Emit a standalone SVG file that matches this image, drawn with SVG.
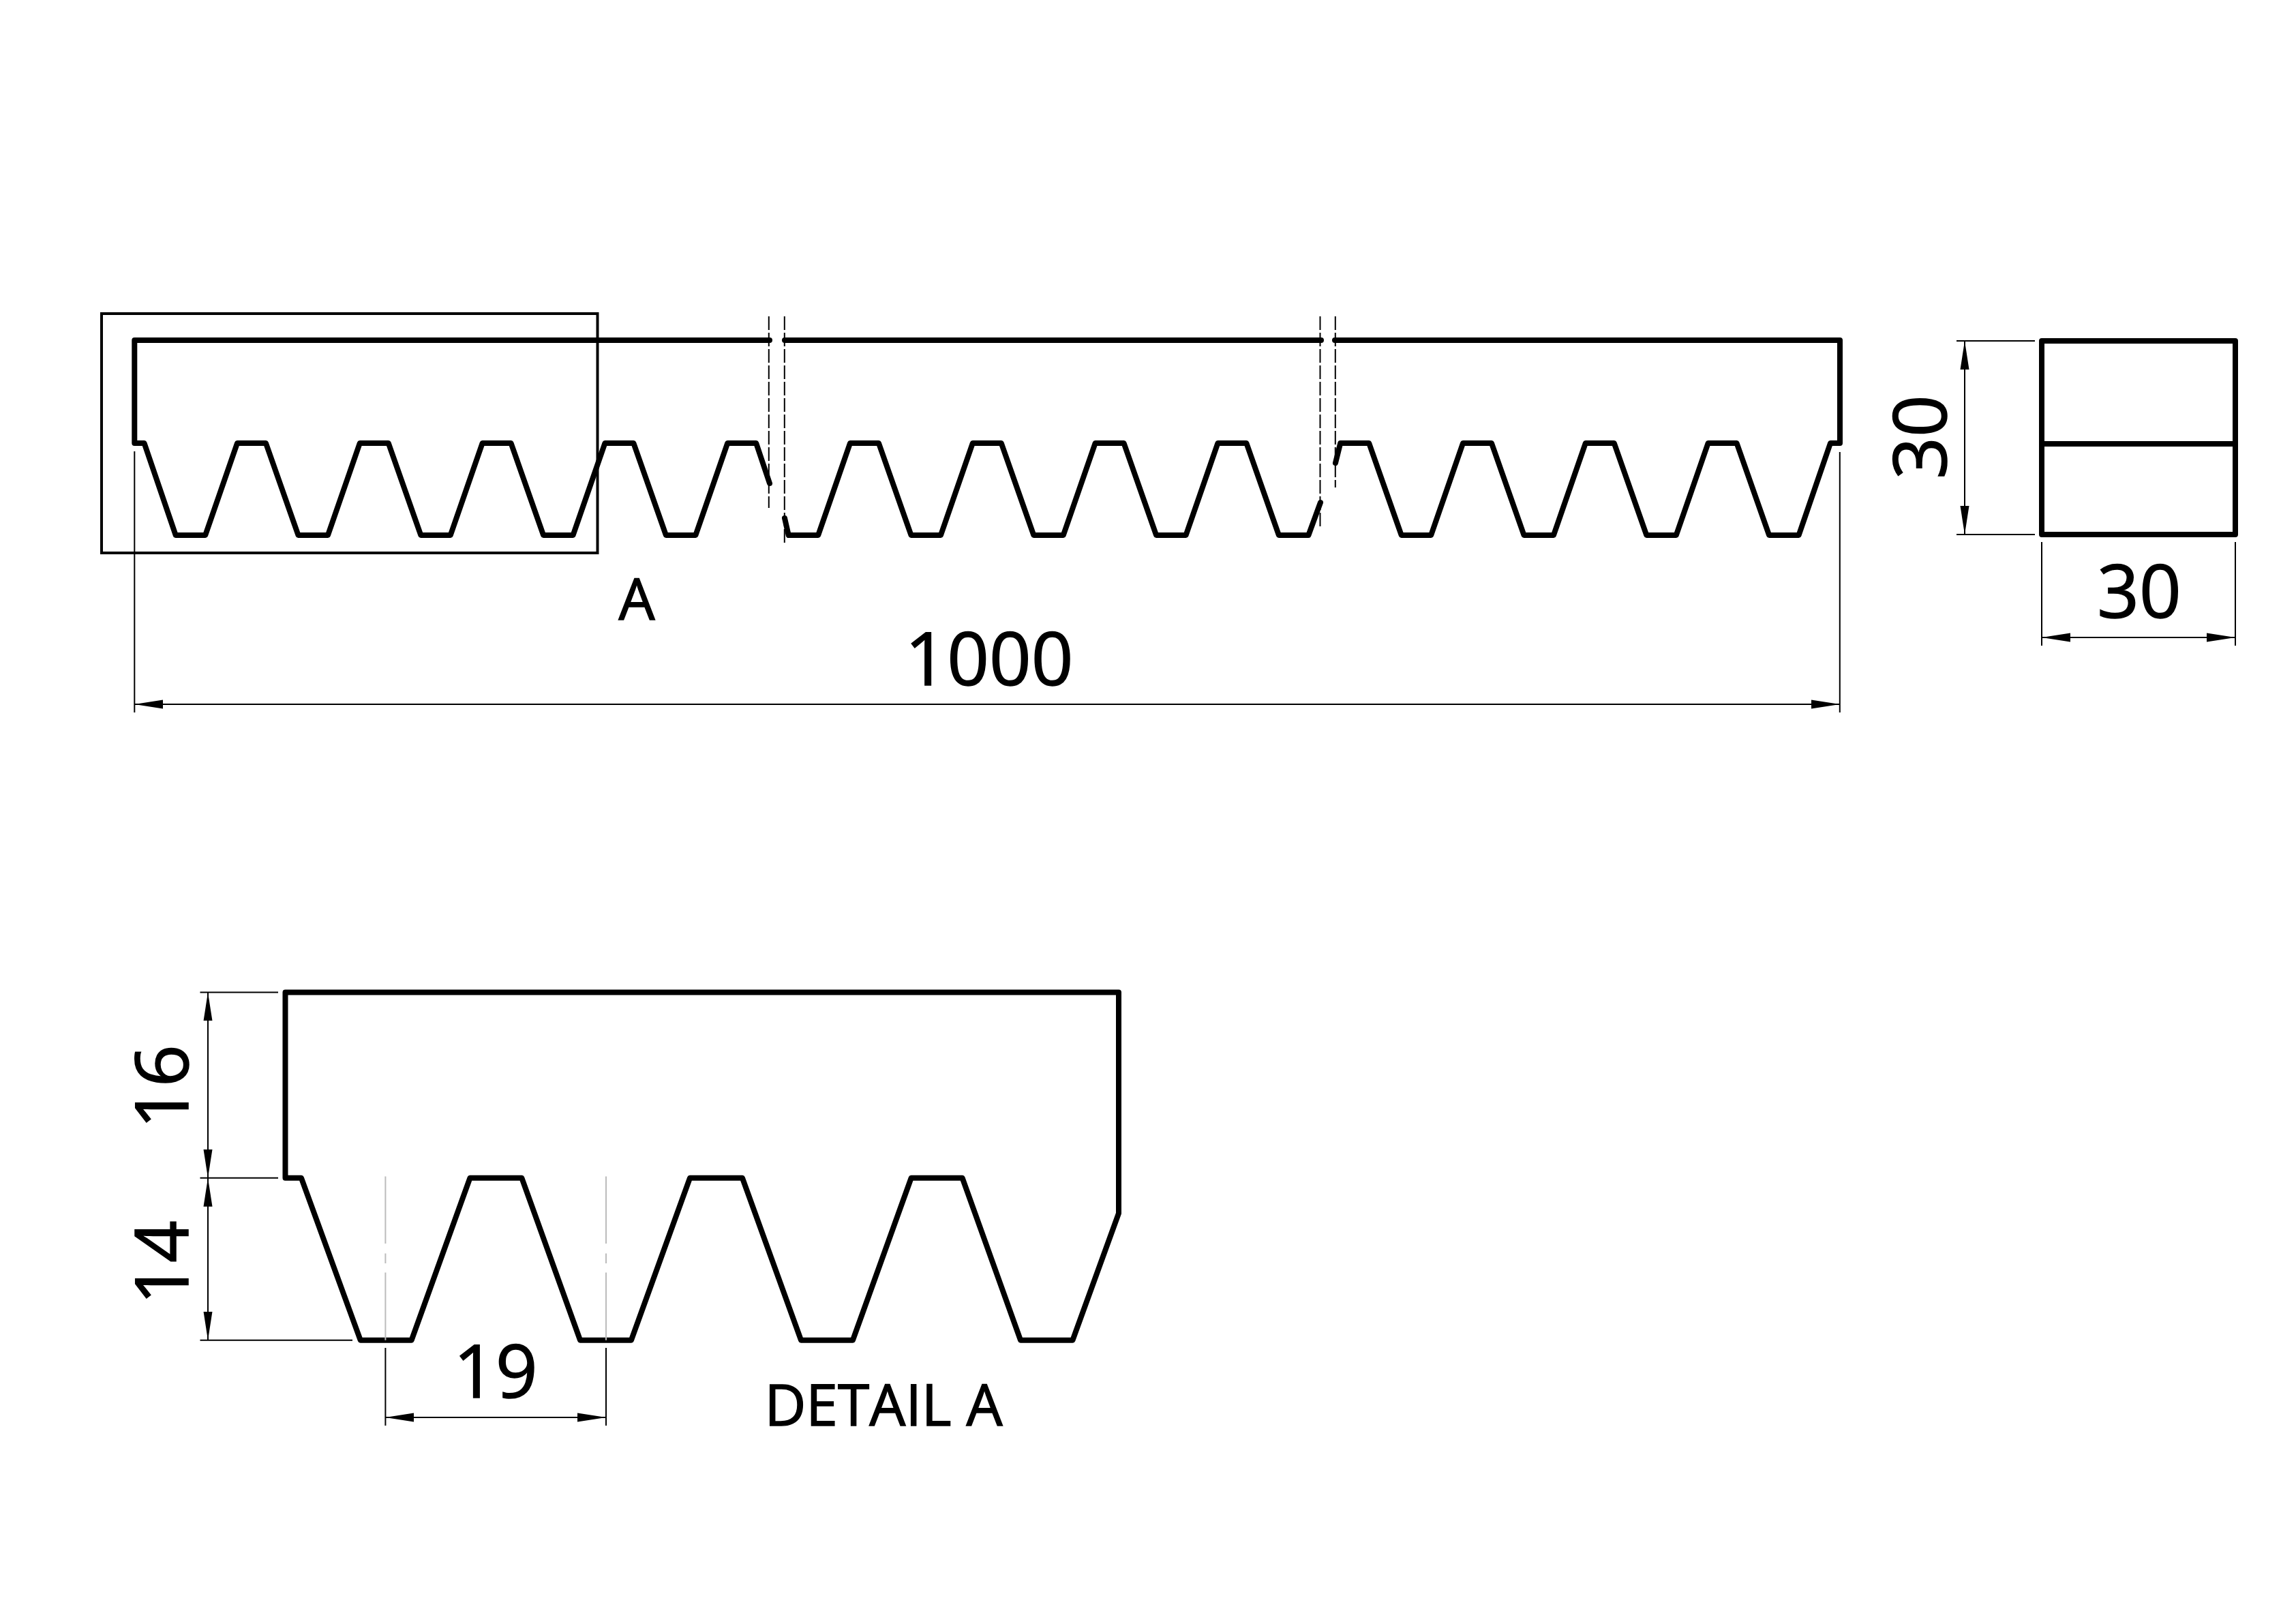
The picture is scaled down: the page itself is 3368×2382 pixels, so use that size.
<svg xmlns="http://www.w3.org/2000/svg" width="3368" height="2382" viewBox="0 0 3368 2382">
<style>
.thick{fill:none;stroke:#000;stroke-width:8;stroke-linejoin:round;stroke-linecap:round}
.box{fill:none;stroke:#000;stroke-width:4}
.thin{fill:none;stroke:#000;stroke-width:2}
.dash{fill:none;stroke:#000;stroke-width:2;stroke-dasharray:20 4}
.center{fill:none;stroke:#bbb;stroke-width:2}
.dim{fill:none;stroke:#000;stroke-width:2;marker-start:url(#arrow);marker-end:url(#arrow)}
.num{font-family:"Open Sans","Liberation Sans",sans-serif;font-size:108px;fill:#000;stroke:#000;stroke-width:1.5;text-anchor:middle}
.lab{font-family:"Open Sans","Liberation Sans",sans-serif;font-size:84px;fill:#000;stroke:#000;stroke-width:1.5;text-anchor:middle}
</style>
<defs>
<marker id="arrow" markerUnits="userSpaceOnUse" markerWidth="44" markerHeight="16" viewBox="0 -8 44 16" refX="42" refY="0" orient="auto-start-reverse"><path d="M0,-6.5L42,0L0,6.5Z" fill="#000"/></marker>
</defs>
<rect width="3368" height="2382" fill="#fff"/>
<g id="front-view">
<path class="thick" d="M1129,499H197.3V650H211.6L257.7,785H301.2L348,650H390L437.5,785H481L527.8,650H569.8L617.3,785H660.8L707.6,650H749.6L797.1,785H840.6L887.4,650H929.4L976.9,785H1020.4L1067.2,650H1109.2L1129,709"/>
<path class="thick" d="M1151,760L1156.7,785H1200.2L1247,650H1289L1336.5,785H1380L1426.8,650H1468.8L1516.3,785H1559.8L1606.6,650H1648.6L1696.1,785H1739.6L1786.4,650H1828.4L1875.9,785H1919.4L1937,737"/>
<path class="thick" d="M1151,499H1938"/>
<path class="thick" d="M1958,499H2699V650H2685L2638.6,785H2595.1L2547.6,650H2505.6L2458.8,785H2415.3L2367.8,650H2325.8L2279,785H2235.5L2188,650H2146L2099.2,785H2055.7L2008.2,650H1966.2L1959,679"/>
<path class="dash" d="M1127.8,464V745M1150.8,464V798M1936.5,464V774M1958.8,464V715"/>
<rect class="box" x="149" y="460" width="727.5" height="351"/>
<text class="lab" x="934" y="909">A</text>
</g>
<g id="side-view">
<rect class="thick" x="2995" y="500" width="284" height="284"/>
<path class="thick" d="M2995,651H3279"/>
</g>
<g id="detail-a">
<path class="thick" d="M418.5,1455.4H1641V1779.6L1573.5,1965.7H1497L1411.7,1727.8H1336.6L1251,1965.7H1175L1089,1727.8H1012L926,1965.7H851L765.4,1727.8H689.4L603.7,1965.7H528.7L442,1727.8H418.5Z"/>
<path class="center" d="M565.4,1725.5V1824M565.4,1838.5V1853M565.4,1866.6V1965.7M889,1725.5V1824M889,1838.5V1853M889,1866.6V1965.7"/>
<text class="lab" x="1296" y="2091">DETAIL A</text>
</g>
<g id="connectors">
<path class="thin" d="M197.3,662V1045M2698.8,663V1045"/>
<path class="dim" d="M197.3,1033H2698.8"/>
<path class="thin" d="M2870,500H2985M2870,784H2985"/>
<path class="dim" d="M2882,500V784"/>
<path class="thin" d="M2995,795V947M3279,795V947"/>
<path class="dim" d="M2995,935H3279"/>
<path class="thin" d="M293.5,1455.4H408M293.5,1727.8H408M293.5,1965.7H517"/>
<path class="dim" d="M305,1455.4V1727.8"/>
<path class="dim" d="M305,1727.8V1965.7"/>
<path class="thin" d="M565.4,1977V2091M889,1977V2091"/>
<path class="dim" d="M565.4,2079H889"/>
</g>
<g id="dimension-labels">
<text class="num" x="1451" y="1005">1000</text>
<text class="num" x="3138" y="906">30</text>
<text class="num" transform="translate(2855,641) rotate(-90)">30</text>
<text class="num" transform="translate(276,1594) rotate(-90)">16</text>
<text class="num" transform="translate(276,1852) rotate(-90)">14</text>
<text class="num" x="727" y="2050">19</text>
</g>
</svg>
